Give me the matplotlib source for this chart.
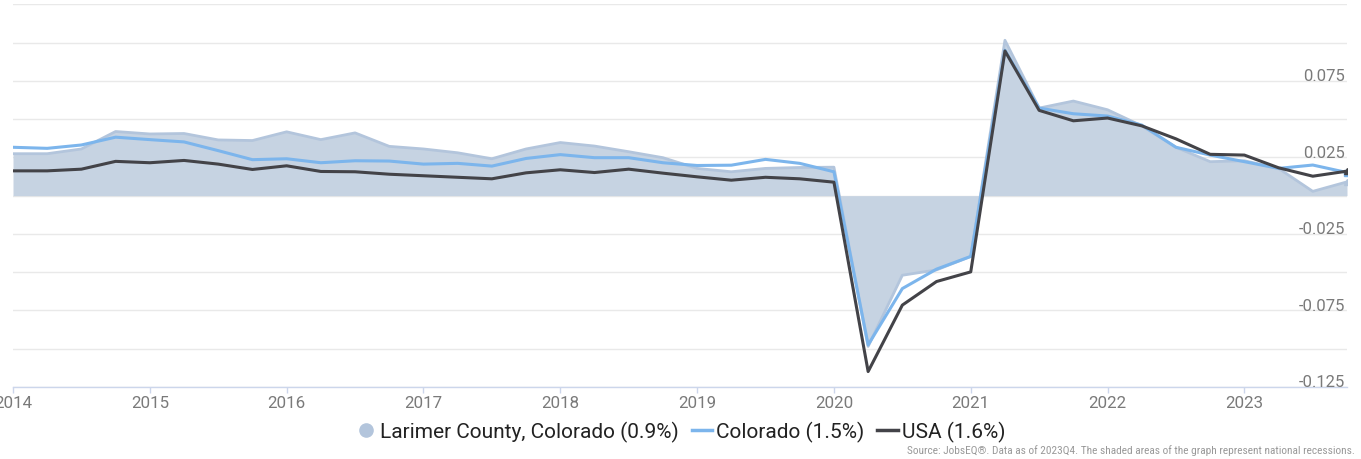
import matplotlib
matplotlib.use("Agg")
import matplotlib.pyplot as plt
from matplotlib.lines import Line2D
import numpy as np

plt.rcParams['font.family'] = ['Roboto', 'DejaVu Sans']

# Quarterly data 2014Q1 .. 2023Q4 (year-over-year employment growth)
quarters = [2014 + q / 4 for q in range(40)]

larimer = [0.0274, 0.0274, 0.0305, 0.0419, 0.0403, 0.0406, 0.0364, 0.0360, 0.0417, 0.0366,
           0.0410, 0.0322, 0.0305, 0.0280, 0.0241, 0.0305, 0.0347, 0.0324, 0.0287, 0.0248,
           0.0178, 0.0156, 0.0178, 0.0184, 0.0186, -0.0985, -0.0520, -0.0485, -0.0397, 0.1015,
           0.0572, 0.0618, 0.0561, 0.0456, 0.0316, 0.0222, 0.0228, 0.0178, 0.0028, 0.0090]

colorado = [0.0316, 0.0309, 0.0331, 0.0382, 0.0366, 0.0351, 0.0294, 0.0235, 0.0241, 0.0215,
            0.0228, 0.0226, 0.0206, 0.0211, 0.0193, 0.0243, 0.0268, 0.0248, 0.0248, 0.0215,
            0.0197, 0.0199, 0.0237, 0.0211, 0.0156, -0.0975, -0.0607, -0.0480, -0.0397, 0.0950,
            0.0572, 0.0535, 0.0520, 0.0461, 0.0316, 0.0265, 0.0222, 0.0178, 0.0200, 0.0151]

usa = [0.0162, 0.0162, 0.0173, 0.0224, 0.0215, 0.0230, 0.0206, 0.0171, 0.0195, 0.0158,
       0.0156, 0.0140, 0.0130, 0.0120, 0.0110, 0.0149, 0.0169, 0.0151, 0.0173, 0.0147,
       0.0123, 0.0101, 0.0120, 0.0110, 0.0088, -0.1149, -0.0715, -0.0561, -0.0498, 0.0945,
       0.0557, 0.0489, 0.0507, 0.0456, 0.0371, 0.0270, 0.0265, 0.0182, 0.0127, 0.0160]

year_ticks = list(range(2014, 2024))
y_grid = [-0.125, -0.1, -0.075, -0.05, -0.025, 0.0, 0.025, 0.05, 0.075, 0.1, 0.125]
y_labels = [0.075, 0.025, -0.025, -0.075, -0.125]
legend_labels = ["Larimer County, Colorado (0.9%)", "Colorado (1.5%)", "USA (1.6%)"]
source_text = ("Source: JobsEQ\u00ae. Data as of 2023Q4. The shaded areas of the graph "
               "represent national recessions.")

W, H = 1361, 460
fig = plt.figure(figsize=(W / 100, H / 100), dpi=100)
ax = fig.add_axes([13 / W, 1 - 388 / H, (1347 - 13) / W, (388 - 5.3) / H])

x = np.array(quarters)
ax.set_xlim(2014, 2023.75)
ax.set_ylim(-0.125, 0.125)

# gridlines
for g in y_grid:
    ax.axhline(g, color='#e9e9e9', lw=1, zorder=0)

fill_c = '#c6d3e2'
edge_c = '#b3c5dc'
ax.fill_between(x, larimer, 0, color=fill_c, lw=0, zorder=1)
ax.plot(x, larimer, color=edge_c, lw=2, zorder=2, marker='^', markevery=[len(x) - 1], ms=5)
ax.plot(x, colorado, color='#7cb5ec', lw=2.2, zorder=3, marker='s', markevery=[len(x) - 1], ms=4)
ax.plot(x, usa, color='#434348', lw=2.2, zorder=4, marker='^', markevery=[len(x) - 1], ms=5)

# axes styling
for s in ['top', 'right', 'left']:
    ax.spines[s].set_visible(False)
ax.spines['bottom'].set_color('#ccd6eb')
ax.spines['bottom'].set_linewidth(1)
ax.spines['bottom'].set_zorder(5)
ax.set_xticks(year_ticks)
ax.set_xticklabels([str(y) for y in year_ticks])
ax.tick_params(axis='x', colors='#ccd6eb', length=4, width=1, pad=1.5,
               labelcolor='#7a7a7a', labelsize=12.2)
ax.set_yticks([])

for v in y_labels:
    ax.text(2023.735, v + 0.0005, f"{v:.3f}", ha='right', va='baseline',
            color='#7a7a7a', fontsize=12, zorder=6)

# legend
handles = [
    Line2D([], [], ls='none', marker='o', ms=9.5, color='#b3c5dc', mec='#b3c5dc'),
    Line2D([], [], color='#7cb5ec', lw=2.5),
    Line2D([], [], color='#434348', lw=2.5),
]
leg = fig.legend(handles, legend_labels, loc='center', bbox_to_anchor=(0.5, 1 - 432 / H),
                 ncol=3, frameon=False, fontsize=15, handlelength=1.0,
                 handletextpad=0.2, columnspacing=0.6, labelcolor='#222222')

fig.text(1355 / W, 1 - 451 / H, source_text, ha='right', va='center',
         fontsize=8.2, color='#999999', family=['Roboto Condensed', 'Roboto', 'DejaVu Sans'])

fig.savefig("out.png", dpi=100)
